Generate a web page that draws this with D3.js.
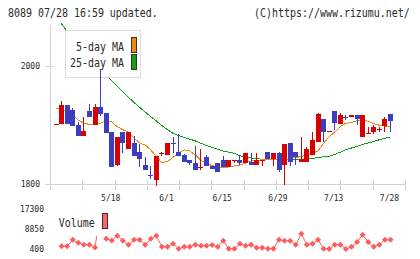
<!DOCTYPE html>
<html><head><meta charset="utf-8">
<script src="https://cdn.jsdelivr.net/npm/d3@7"></script>
<style>body{margin:0;background:#fff}svg{display:block}</style>
</head><body><svg id="c" width="420" height="259"></svg>
<script>
const dates = ["4/28","4/30","5/1","5/7","5/8","5/11","5/12","5/13","5/14","5/15",
"5/18","5/19","5/20","5/21","5/22","5/25","5/26","5/27","5/28","5/29",
"6/1","6/2","6/3","6/4","6/5","6/8","6/9","6/10","6/11","6/12",
"6/15","6/16","6/17","6/18","6/19","6/22","6/23","6/24","6/25","6/26",
"6/29","6/30","7/1","7/2","7/3","7/6","7/7","7/8","7/9","7/10",
"7/13","7/14","7/15","7/16","7/17","7/21","7/22","7/23","7/24","7/27","7/28"];
const open = [1900,1901,1934,1926,1900,1881,1923,1900,1930,1920,
1888,1833,1888,1859,1869,1855,1833,1816,1806,1851,
1850,1870,1855,1850,1840,1835,1827,1845,1830,1835,
1840,1828,1839,1840,1835,1838,1833,1839,1855,1843,
1852,1833,1869,1855,1838,1838,1850,1872,1910,1888.5,
1923,1901,1914,1913,1917,1879,1885.5,1888,1892,1898,1918];
const high = [1901,1941,1934,1929,1905,1913,1935,1935,1995,1921,
1888,1879,1888,1888,1881,1867,1845,1831,1847,1855,
1869,1879,1884,1851,1840,1864,1859,1850,1830,1835,
1847,1840,1840,1850,1852,1852,1852,1840,1855,1852,
1855,1867,1869,1855,1879,1862,1888,1920,1910,1889.5,
1923,1920,1917,1917,1917,1917,1896,1900,1896,1913,1918];
const low = [1900,1901,1902,1898,1881,1881,1914,1900,1915,1886,
1828,1831,1853,1859,1848,1828,1823,1808,1797,1848,
1850,1853,1848,1838,1833,1823,1823,1831,1825,1821,
1828,1828,1835,1833,1835,1833,1833,1831,1843,1831,
1820,1799,1831,1833,1838,1838,1850,1872,1871,1888.5,
1891,1901,1908,1913,1900,1879,1885.5,1884,1888,1888,1888];
const close = [1901,1934,1902,1898,1881,1889,1914,1930,1919,1886,
1828,1879,1869,1888,1848,1843,1823,1813,1847,1852,
1869,1869,1848,1838,1835,1823,1829,1831,1825,1821,
1828,1840,1840,1835,1852,1833,1840,1840,1843,1852,
1823,1867,1838,1845,1843,1859,1874,1918,1888,1889.5,
1903,1917,1913,1917,1910,1917,1886.5,1896,1893,1910,1906];
const ma5 = [1929,1926,1924,1917,1908,1903,1901,1901,1903,1908,
1905,1897,1892,1888,1878,1869.5,1866,1858,1846,1836,
1838,1845,1852.5,1858,1856,1849,1840,1835,1831,1829,
1828,1829,1830.5,1832,1835.5,1839,1840,1841,1841,1841,
1841,1841.5,1843,1845,1846.5,1849,1852,1856,1869,1880,
1888,1897.5,1903,1904,1907.5,1909,1906,1902.5,1899.5,1898,1897.5];
const ma25 = [2086,2071,2059,2049,2037,2026,2016,2005,1996,1984,
1975,1966,1956,1947,1938,1930,1922,1914,1907,1899,
1892,1886,1882,1879,1876,1873,1869,1865,1862,1859,
1856,1854,1852,1848,1845,1844,1843,1842,1841.5,1841,
1841,1841,1841,1841,1841,1842,1843,1845,1846,1847,
1850,1854,1858,1861,1864,1867,1869.5,1872,1875,1877.5,1880];
const volume = [null,1600,1600,4300,3000,2200,2200,1000,17300,4700,
4000,6000,3900,2200,4300,4300,2200,4700,6000,1300,
1300,2600,500,1300,1300,2200,1750,1750,2050,1300,
3900,500,500,2600,1750,2200,900,900,500,500,
4300,3900,3900,2200,6800,2200,2600,4300,500,400,
2200,2200,400,1300,3400,6400,3400,1300,2200,4300,4300];
const priceTicks = [1800, 2000];
const volumeTicks = [400, 8850, 17300];
const dateLabels = ["5/18","6/1","6/15","6/29","7/13","7/28"];
const legendNames = ["5-day MA","25-day MA"];
const titleLeft = "8089 07/28 16:59 updated.";
const titleRight = "(C)https://www.rizumu.net/";

const RED = "#d70000", BLUE = "#3d3dbf", ORANGE = "#f0880f", GREEN = "#12a012",
      GRID = "#d3d3d3", TXT = "#2a2a2a", VOL = "#ff5c5c";
const MONO = "'DejaVu Sans Mono', monospace";
const NARROW = 6 / 7.224; // squeeze 12px mono glyphs to 6px cells

const svg = d3.select("#c");
const x = d3.scalePoint().domain(dates).range([56, 390.5]);
const y = d3.scaleLinear().domain([1800, 2000]).range([184, 66]);
const yv = d3.scaleLinear().domain([400, 17300]).range([249, 209]);
const gx = d3.scaleLinear().domain([0, 11]).range([50, 405]);

function narrowText(parent, str, px, py, anchor) {
  return parent.append("text")
    .attr("transform", `translate(${px},${py}) scale(${NARROW},1)`)
    .attr("text-anchor", anchor || "start")
    .style("font-family", MONO).style("font-size", "12px").attr("fill", TXT).text(str);
}

const defs = svg.append("defs");
defs.append("clipPath").attr("id","pc").append("rect").attr("x",50).attr("y",23).attr("width",360).attr("height",170);
defs.append("clipPath").attr("id","vc").append("rect").attr("x",50).attr("y",204).attr("width",360).attr("height",54);

// titles
narrowText(svg, titleLeft, 8, 17);
narrowText(svg, titleRight, 254, 17);

// axes
const ax = svg.append("g").attr("shape-rendering","crispEdges");
ax.append("line").attr("x1",50.5).attr("x2",50.5).attr("y1",25).attr("y2",190).attr("stroke",GRID);
ax.append("line").attr("x1",45).attr("x2",406).attr("y1",Math.round(y(1800))+0.5).attr("y2",Math.round(y(1800))+0.5).attr("stroke",GRID);
ax.selectAll("line.gt").data(d3.range(12)).join("line").attr("class","gt")
  .attr("x1",d=>Math.round(gx(d))+0.5).attr("x2",d=>Math.round(gx(d))+0.5)
  .attr("y1",180).attr("y2",190).attr("stroke",GRID);
ax.selectAll("line.yt").data(priceTicks).join("line").attr("class","yt")
  .attr("x1",45).attr("x2",54).attr("y1",d=>Math.round(y(d))+0.5).attr("y2",d=>Math.round(y(d))+0.5).attr("stroke",GRID);
svg.selectAll("text.yl").data(priceTicks).join("text").attr("class","yl")
  .attr("x",40).attr("y",d=>y(d)+3).attr("text-anchor","end")
  .style("font-family",MONO).style("font-size","8px").attr("fill",TXT).text(d=>d);
svg.selectAll("text.xl").data(dateLabels).join("text").attr("class","xl")
  .attr("x",d=>x(d)-1).attr("y",200.5).attr("text-anchor","middle")
  .style("font-family",MONO).style("font-size","8px").attr("fill",TXT).text(d=>d);
svg.selectAll("text.vl").data(volumeTicks).join("text").attr("class","vl")
  .attr("x",44).attr("y",d=>yv(d)+2.8).attr("text-anchor","end")
  .style("font-family",MONO).style("font-size","8px").attr("fill",TXT).text(d=>d);

// MA lines
const pg = svg.append("g").attr("clip-path","url(#pc)");
const lineOf = arr => d3.line().x((d,i)=>x(dates[i])).y(d=>y(d))(arr);
pg.append("path").attr("d",lineOf(ma25)).attr("fill","none").attr("stroke",GREEN).attr("stroke-width",1).attr("shape-rendering","crispEdges");
pg.append("path").attr("d",lineOf(ma5)).attr("fill","none").attr("stroke",ORANGE).attr("stroke-width",1).attr("shape-rendering","crispEdges");

// legend
const lg = svg.append("g");
lg.append("rect").attr("x",65.5).attr("y",30.5).attr("width",75).attr("height",47).attr("fill","#fff").attr("stroke","#dcdcdc").attr("shape-rendering","crispEdges");
const lgColors = [ORANGE, GREEN];
legendNames.forEach((n,i)=>{
  narrowText(lg, n, 124, 50.7+i*16.6, "end");
  lg.append("rect").attr("x",131.5).attr("y",37.5+i*17).attr("width",5).attr("height",15)
    .attr("fill",lgColors[i]).attr("stroke","#333").attr("shape-rendering","crispEdges");
});

// candles
const cg = svg.append("g").attr("clip-path","url(#pc)").attr("shape-rendering","crispEdges");
const idx = d3.range(dates.length);
cg.selectAll("line.w").data(idx).join("line").attr("class","w")
  .attr("x1",i=>Math.round(x(dates[i])-2.5)+2.5).attr("x2",i=>Math.round(x(dates[i])-2.5)+2.5)
  .attr("y1",i=>y(high[i])).attr("y2",i=>y(low[i]))
  .attr("stroke",i=>close[i]>=open[i]?RED:BLUE);
cg.selectAll("rect.b").data(idx).join("rect").attr("class","b")
  .attr("x",i=>Math.round(x(dates[i])-2.5)).attr("width",5)
  .attr("y",i=>Math.round(y(Math.max(open[i],close[i]))))
  .attr("height",i=>Math.max(1,Math.round(y(Math.min(open[i],close[i])))-Math.round(y(Math.max(open[i],close[i])))))
  .attr("fill",i=>close[i]>=open[i]?RED:BLUE);

// volume
const vg = svg.append("g").attr("clip-path","url(#vc)");
vg.append("path").attr("d",d3.line().defined(d=>d!=null).x((d,i)=>x(dates[i])).y(d=>yv(d))(volume))
  .attr("fill","none").attr("stroke",VOL).attr("stroke-width",1);
const diamond = {draw(ctx,size){const r=Math.sqrt(size)/2;ctx.moveTo(0,-r);ctx.lineTo(r,0);ctx.lineTo(0,r);ctx.lineTo(-r,0);ctx.closePath();}};
vg.selectAll("path.pt").data(idx.filter(i=>volume[i]!=null)).join("path").attr("class","pt")
  .attr("transform",i=>`translate(${x(dates[i])},${yv(volume[i])})`)
  .attr("d",d3.symbol().type(diamond).size(36)).attr("fill",VOL);

// volume legend
const vl = svg.append("g");
vl.append("rect").attr("x",55).attr("y",205).attr("width",57).attr("height",31).attr("fill","#fff");
narrowText(vl, "Volume", 58.7, 226.7);
vl.append("rect").attr("x",102.5).attr("y",213.5).attr("width",5).attr("height",15)
  .attr("fill","#ff6464").attr("stroke","#333").attr("shape-rendering","crispEdges");
</script></body></html>
